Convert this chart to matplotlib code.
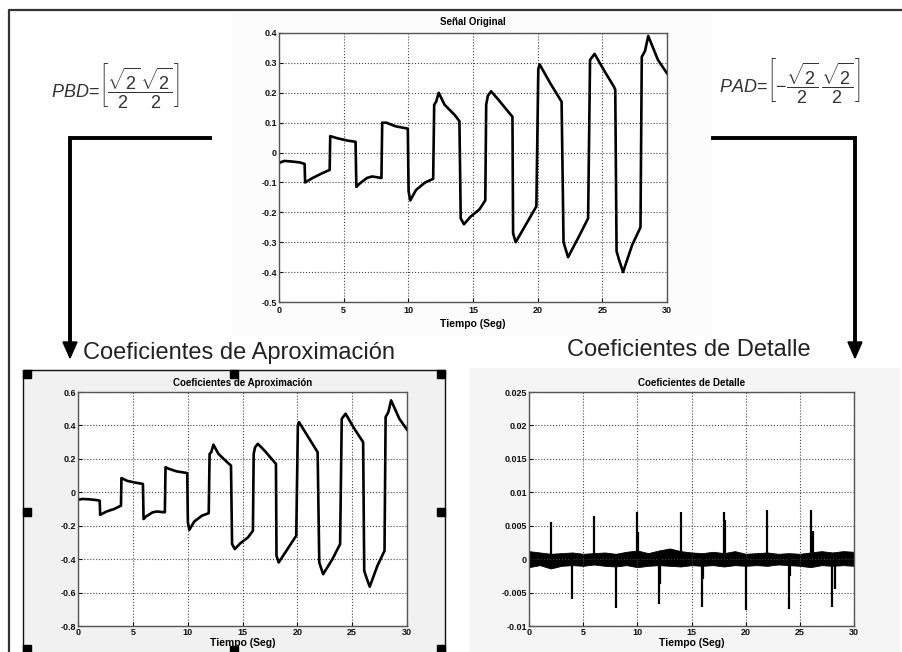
import numpy as np
import matplotlib
matplotlib.use("Agg")
import matplotlib.pyplot as plt
from matplotlib.patches import Rectangle, Polygon

plt.rcParams['font.family'] = ['Liberation Sans', 'DejaVu Sans']
plt.rcParams['mathtext.fontset'] = 'custom'
plt.rcParams['mathtext.rm'] = 'Liberation Sans'
plt.rcParams['mathtext.it'] = 'Liberation Sans:italic'

# === Datos ===
t_break = [0, 0.4, 1.0, 1.6, 1.98,
           2.02, 2.6, 3.3, 3.92,
           3.96, 4.5, 5.3, 5.92,
           5.98, 6.2, 6.8, 7.2, 7.92,
           7.98, 8.3, 9.0, 9.96,
           10.02, 10.15, 10.6, 11.3, 11.92,
           12.0, 12.15, 12.35, 12.8, 13.6, 13.95,
           14.05, 14.3, 14.8, 15.5, 15.95,
           16.02, 16.15, 16.4, 17.0, 17.85, 18.05,
           18.1, 18.3, 19.1, 19.9,
           20.05, 20.15, 21.0, 21.85,
           22.0, 22.35, 23.2, 23.9,
           24.05, 24.4, 25.2, 25.9, 26.0,
           26.1, 26.3, 26.6, 27.3, 27.95,
           28.05, 28.3, 28.55, 29.3, 30]

senal_original = [-0.035, -0.028, -0.03, -0.033, -0.038,
                  -0.1, -0.085, -0.07, -0.058,
                  0.055, 0.048, 0.04, 0.036,
                  -0.115, -0.105, -0.085, -0.08, -0.085,
                  0.1, 0.1, 0.088, 0.08,
                  -0.13, -0.16, -0.125, -0.1, -0.088,
                  0.16, 0.17, 0.2, 0.16, 0.125, 0.105,
                  -0.22, -0.24, -0.215, -0.19, -0.16,
                  0.16, 0.19, 0.205, 0.175, 0.13, 0.12,
                  -0.27, -0.3, -0.24, -0.18,
                  0.28, 0.295, 0.23, 0.17,
                  -0.3, -0.35, -0.28, -0.22,
                  0.31, 0.33, 0.27, 0.22, 0.21,
                  -0.33, -0.36, -0.4, -0.31, -0.25,
                  0.32, 0.34, 0.39, 0.31, 0.265]

coef_aprox = [-0.045, -0.04, -0.042, -0.046, -0.05,
              -0.135, -0.115, -0.1, -0.08,
              0.085, 0.068, 0.057, 0.05,
              -0.16, -0.145, -0.12, -0.115, -0.12,
              0.15, 0.14, 0.125, 0.115,
              -0.18, -0.225, -0.175, -0.14, -0.125,
              0.23, 0.24, 0.285, 0.23, 0.18, 0.16,
              -0.31, -0.34, -0.305, -0.27, -0.23,
              0.23, 0.27, 0.29, 0.25, 0.185, 0.17,
              -0.38, -0.42, -0.34, -0.26,
              0.4, 0.42, 0.33, 0.24,
              -0.42, -0.49, -0.4, -0.31,
              0.44, 0.47, 0.38, 0.31, 0.3,
              -0.47, -0.51, -0.565, -0.44, -0.35,
              0.45, 0.48, 0.55, 0.44, 0.375]

# detalle: picos en cada transicion + banda de ruido
pico_t = [2, 4, 6, 8, 10, 12, 14, 16, 18, 20, 22, 24, 26, 28]
pico_v = [0.0055, -0.006, 0.0064, -0.0073, 0.0071, -0.0067, 0.0071,
          -0.0072, 0.007, -0.0076, 0.0074, -0.0074, 0.0074, -0.0071]
pico2_t = [10.1, 12.1, 16.1, 18.1, 24.1, 26.2, 28.2]
pico2_v = [0.0041, -0.0037, -0.003, 0.0058, -0.0025, 0.0042, -0.0045]

banda_t = list(range(31))
banda_sup = [0.0012, 0.0010, 0.0008, 0.0009, 0.0010, 0.0008, 0.0009, 0.0010,
             0.0008, 0.0011, 0.0013, 0.0009, 0.0013, 0.0016, 0.0012, 0.0010,
             0.0009, 0.0011, 0.0009, 0.0012, 0.0008, 0.0009, 0.0010, 0.0008,
             0.0009, 0.0008, 0.0010, 0.0012, 0.0010, 0.0012, 0.0011]
banda_inf = [-0.0012, -0.0009, -0.0014, -0.0010, -0.0009, -0.0010, -0.0008,
             -0.0010, -0.0011, -0.0009, -0.0012, -0.0010, -0.0009, -0.0010,
             -0.0011, -0.0009, -0.0010, -0.0009, -0.0011, -0.0009, -0.0010,
             -0.0009, -0.0010, -0.0008, -0.0009, -0.0010, -0.0012, -0.0009,
             -0.0010, -0.0009, -0.0010]

x_ticks = [0, 5, 10, 15, 20, 25, 30]
y_ticks_orig = [0.4, 0.3, 0.2, 0.1, 0, -0.1, -0.2, -0.3, -0.4, -0.5]
y_lbl_orig = ['0.4', '0.3', '0.2', '0.1', '0', '-0.1', '-0.2', '-0.3', '-0.4', '-0.5']
y_ticks_aprox = [0.6, 0.4, 0.2, 0, -0.2, -0.4, -0.6, -0.8]
y_lbl_aprox = ['0.6', '0.4', '0.2', '0', '-0.2', '-0.4', '-0.6', '-0.8']
y_ticks_det = [0.025, 0.02, 0.015, 0.01, 0.005, 0, -0.005, -0.01]
y_lbl_det = ['0.025', '0.02', '0.015', '0.01', '0.005', '0', '-0.005', '-0.01']

W, H = 902, 652
fig = plt.figure(figsize=(W / 100, H / 100), dpi=100)
fig.patch.set_facecolor('white')

# === capa de fondo (coordenadas en pixeles) ===
bg = fig.add_axes([0, 0, 1, 1])
bg.set_xlim(0, W)
bg.set_ylim(H, 0)
bg.axis('off')
bg.add_patch(Rectangle((232, 14), 480, 322, color='#fcfcfc', lw=0))
bg.add_patch(Rectangle((470, 368), 430, 290, color='#f5f5f5', lw=0))
bg.add_patch(Rectangle((23, 370), 422, 290, facecolor='#f1f1f1',
                       edgecolor='#111111', lw=1.0))
bg.plot([9, 9, W], [H, 10, 10], color='#333333', lw=1.6)

# flechas
bg.plot([210, 70, 70], [138, 138, 344], color='black', lw=2.8,
        solid_joinstyle='miter')
bg.add_patch(Polygon([(63, 342), (77, 342), (70, 358)], color='black'))
bg.plot([713, 855, 855], [138, 138, 344], color='black', lw=2.8,
        solid_joinstyle='miter')
bg.add_patch(Polygon([(848, 342), (862, 342), (855, 358)], color='black'))

bg.text(51, 86, r'$PBD\!=\!\left[\dfrac{\sqrt{2}}{2}\dfrac{\sqrt{2}}{2}\right]$',
        fontsize=13, color='#333333', ha='left', va='center')
bg.text(719, 81, r'$PAD\!=\!\left[-\dfrac{\sqrt{2}}{2}\,\dfrac{\sqrt{2}}{2}\right]$',
        fontsize=13, color='#333333', ha='left', va='center')

bg.text(83, 353, 'Coeficientes de Aproximación', fontsize=17,
        color='#222222', ha='left', va='center')
bg.text(567, 350, 'Coeficientes de Detalle', fontsize=17,
        color='#222222', ha='left', va='center')


def estilo(ax, yt, yl, ylim, titulo, tpad=4, xpad=1):
    ax.set_xlim(0, 30)
    ax.set_ylim(*ylim)
    ax.set_xticks(x_ticks)
    ax.set_xticklabels([str(v) for v in x_ticks])
    ax.set_yticks(yt)
    ax.set_yticklabels(yl)
    ax.tick_params(direction='in', length=3, width=0.8, labelsize=6.5,
                   pad=1.5, colors='#111111')
    for lbl in ax.get_xticklabels() + ax.get_yticklabels():
        lbl.set_fontweight('bold')
    ax.grid(True, linestyle=':', color='#444444', lw=0.8)
    for s in ax.spines.values():
        s.set_color('#555555')
        s.set_linewidth(1.0)
    ax.set_title(titulo, fontsize=7, fontweight='bold', pad=tpad)
    ax.set_xlabel('Tiempo (Seg)', fontsize=7.5, fontweight='bold', labelpad=xpad)


def px_axes(x0, y0, x1, y1):
    return fig.add_axes([x0 / W, 1 - y1 / H, (x1 - x0) / W, (y1 - y0) / H])


# === Señal original ===
ax1 = px_axes(279, 33, 667, 302)
ax1.plot(t_break, senal_original, color='black', lw=1.9)
estilo(ax1, y_ticks_orig, y_lbl_orig, (-0.5, 0.4), 'Señal Original',
       tpad=6, xpad=2.5)
ax1.tick_params(axis='x', pad=3)

# === Coeficientes de aproximacion ===
ax2 = px_axes(78, 392, 407, 626)
ax2.plot(t_break, coef_aprox, color='black', lw=1.9)
estilo(ax2, y_ticks_aprox, y_lbl_aprox, (-0.8, 0.6), 'Coeficientes de Aproximación')

# === Coeficientes de detalle ===
ax3 = px_axes(529, 392, 854, 626)
ax3.fill_between(banda_t, banda_inf, banda_sup, color='black', lw=0.6)
ax3.vlines(pico_t, 0, pico_v, color='black', lw=1.6)
ax3.vlines(pico2_t, 0, pico2_v, color='black', lw=1.6)
estilo(ax3, y_ticks_det, y_lbl_det, (-0.01, 0.025), 'Coeficientes de Detalle')

# === capa frontal: marcas de seleccion ===
fg = fig.add_axes([0, 0, 1, 1])
fg.set_xlim(0, W)
fg.set_ylim(H, 0)
fg.axis('off')
fg.patch.set_alpha(0)
for hx, hy in [(23, 370), (230, 370), (437, 370), (23, 508), (437, 508),
               (23, 645), (230, 646), (437, 645)]:
    fg.add_patch(Rectangle((hx, hy), 8, 8, color='black'))

fig.savefig('out.png', dpi=100)
